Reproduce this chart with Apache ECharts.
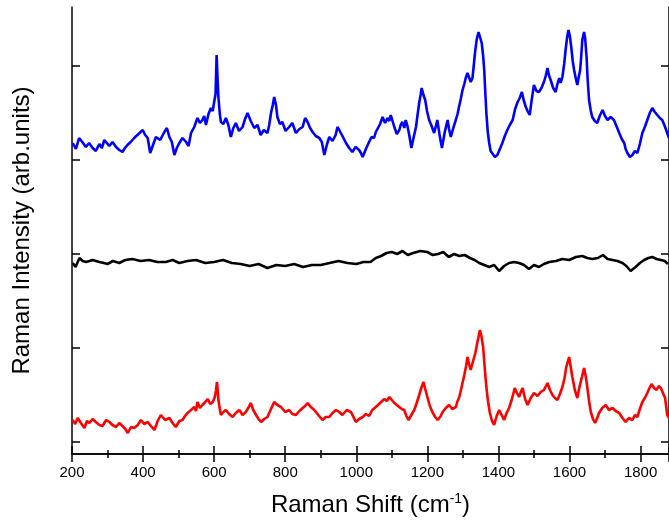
<!DOCTYPE html>
<html>
<head>
<meta charset="utf-8">
<script src="https://cdn.jsdelivr.net/npm/echarts@6/dist/echarts.min.js"></script>
<style>
  html, body { margin: 0; padding: 0; background: #fff; }
  #chart { width: 669px; height: 522px; }
</style>
</head>
<body>
<div id="chart"></div>
<script>
// Raman shift (cm-1) and intensity (arb. units, spectra offset vertically)
const blueShift = [202, 211, 220, 229, 239, 248, 258, 267, 277, 284, 291, 298, 305, 314, 324, 333, 342, 349, 356, 365,
  375, 387, 399, 406, 413, 420, 428, 436, 448, 460, 467, 474, 481, 488, 495, 502, 511, 521, 528, 535,
  544, 553, 560, 567, 572, 577, 584, 591, 596, 600, 604, 607, 610, 612, 616, 619, 626, 633, 640, 647,
  654, 661, 670, 680, 687, 694, 703, 713, 722, 731, 740, 750, 755, 760, 765, 769, 774, 778, 785, 792,
  801, 811, 820, 830, 840, 849, 856, 863, 870, 877, 886, 896, 903, 910, 917, 924, 933, 942, 947, 952,
  961, 971, 980, 989, 998, 1008, 1013, 1018, 1027, 1036, 1043, 1050, 1055, 1060, 1067, 1074, 1081, 1088, 1093, 1097,
  1102, 1107, 1114, 1121, 1125, 1130, 1135, 1139, 1144, 1149, 1155, 1161, 1168, 1172, 1177, 1181, 1184, 1189, 1194, 1199,
  1205, 1212, 1219, 1224, 1228, 1234, 1241, 1249, 1257, 1261, 1266, 1273, 1280, 1285, 1289, 1294, 1299, 1304, 1308, 1313,
  1318, 1322, 1327, 1331, 1334, 1339, 1344, 1348, 1353, 1357, 1360, 1363, 1366, 1370, 1374, 1378, 1383, 1390, 1397, 1404,
  1411, 1418, 1425, 1432, 1440, 1447, 1454, 1460, 1466, 1471, 1477, 1482, 1488, 1494, 1500, 1507, 1514, 1521, 1528, 1533,
  1538, 1542, 1547, 1554, 1561, 1566, 1571, 1575, 1580, 1585, 1589, 1593, 1597, 1601, 1605, 1609, 1613, 1618, 1622, 1626,
  1630, 1633, 1636, 1641, 1644, 1648, 1651, 1655, 1660, 1664, 1671, 1678, 1685, 1693, 1700, 1707, 1716, 1725, 1732, 1740,
  1747, 1754, 1758, 1763, 1770, 1777, 1784, 1791, 1798, 1805, 1812, 1819, 1826, 1833, 1840, 1847, 1854, 1861, 1868, 1875, 1880];
const blue = [311, 305, 316, 312, 307, 311, 306, 303, 310, 306, 314, 311, 308, 312, 307, 304, 302, 306, 309, 312,
  316, 320, 324, 319, 316, 301, 309, 317, 314, 322, 326, 317, 312, 299, 306, 311, 316, 312, 308, 321,
  327, 336, 331, 334, 338, 329, 340, 346, 343, 352, 360, 399, 372, 357, 340, 332, 330, 336, 329, 317,
  326, 331, 323, 327, 335, 341, 333, 326, 329, 319, 324, 321, 329, 341, 349, 357, 349, 337, 330, 332,
  323, 327, 331, 321, 325, 327, 336, 332, 326, 322, 318, 316, 312, 299, 309, 317, 313, 319, 327, 324,
  318, 311, 306, 302, 307, 304, 301, 297, 305, 312, 317, 316, 322, 321, 330, 337, 331, 336, 333, 339,
  333, 327, 320, 324, 329, 332, 326, 334, 328, 319, 306, 316, 327, 338, 351, 359, 366, 359, 354, 343,
  334, 328, 321, 328, 334, 320, 306, 322, 334, 325, 317, 326, 334, 340, 347, 355, 364, 370, 376, 381,
  379, 372, 376, 390, 401, 415, 422, 420, 411, 398, 384, 362, 341, 322, 311, 303, 301, 297, 299, 305,
  311, 318, 324, 329, 334, 345, 352, 356, 362, 354, 347, 343, 339, 355, 369, 363, 362, 366, 372, 378,
  386, 379, 374, 366, 362, 370, 376, 371, 377, 390, 404, 416, 424, 418, 407, 393, 384, 375, 369, 377,
  384, 398, 414, 422, 416, 397, 375, 354, 343, 337, 333, 331, 338, 344, 338, 334, 337, 334, 328, 321,
  315, 311, 305, 301, 297, 299, 303, 301, 310, 321, 327, 334, 341, 346, 342, 339, 336, 334, 328, 321, 316];

const blackShift = [202, 210, 221, 230, 240, 258, 277, 290, 300, 315, 333, 350, 370, 393, 417, 440, 464, 483, 502, 525,
  549, 575, 600, 625, 650, 675, 700, 725, 750, 775, 800, 825, 850, 875, 900, 925, 950, 975, 1000, 1020,
  1040, 1055, 1070, 1085, 1100, 1115, 1130, 1145, 1160, 1180, 1200, 1215, 1230, 1245, 1260, 1275, 1290, 1305, 1320, 1333,
  1346, 1360, 1374, 1388, 1402, 1416, 1430, 1444, 1458, 1472, 1486, 1500, 1514, 1528, 1543, 1562, 1580, 1599, 1618, 1636,
  1650, 1664, 1680, 1694, 1707, 1721, 1735, 1749, 1760, 1772, 1786, 1798, 1810, 1822, 1833, 1845, 1857, 1868, 1877];
const black = [191, 187, 196, 193, 192, 194, 192, 191, 190, 193, 191, 194, 195, 193, 194, 192, 192, 194, 191, 193,
  194, 191, 192, 194, 191, 190, 188, 190, 186, 189, 188, 190, 187, 189, 189, 191, 193, 191, 190, 192,
  192, 196, 198, 201, 202, 200, 203, 199, 201, 203, 202, 199, 200, 202, 197, 200, 198, 199, 196, 194,
  191, 189, 187, 189, 183, 188, 191, 192, 191, 189, 185, 189, 187, 190, 192, 193, 195, 194, 197, 198,
  196, 195, 196, 199, 195, 194, 193, 191, 188, 183, 187, 191, 194, 196, 197, 195, 194, 193, 190];

const redShift = [202, 209, 216, 225, 235, 242, 249, 258, 267, 277, 286, 296, 305, 314, 324, 333, 342, 350, 357, 366,
  375, 385, 394, 403, 413, 422, 432, 441, 450, 462, 474, 483, 492, 502, 511, 518, 525, 535, 544, 549,
  553, 560, 567, 575, 582, 589, 596, 602, 605, 608, 610, 612, 616, 619, 626, 633, 642, 652, 661, 671,
  680, 689, 696, 703, 710, 718, 725, 732, 741, 750, 760, 769, 778, 788, 800, 811, 820, 830, 840, 849,
  856, 863, 872, 882, 893, 905, 914, 924, 933, 943, 952, 961, 973, 985, 992, 999, 1008, 1018, 1027, 1036,
  1045, 1055, 1067, 1079, 1086, 1093, 1100, 1107, 1114, 1121, 1128, 1135, 1141, 1147, 1155, 1163, 1170, 1177, 1183, 1189,
  1194, 1200, 1207, 1214, 1222, 1229, 1236, 1243, 1252, 1261, 1270, 1280, 1285, 1290, 1297, 1304, 1309, 1313, 1318, 1322,
  1328, 1335, 1341, 1348, 1352, 1357, 1361, 1366, 1371, 1376, 1382, 1388, 1395, 1402, 1409, 1416, 1423, 1430, 1438, 1446,
  1452, 1458, 1463, 1468, 1475, 1482, 1491, 1500, 1510, 1519, 1528, 1538, 1545, 1552, 1559, 1566, 1573, 1580, 1586, 1591,
  1595, 1599, 1603, 1608, 1615, 1622, 1628, 1635, 1641, 1646, 1650, 1655, 1660, 1666, 1672, 1678, 1683, 1692, 1702, 1711,
  1721, 1730, 1740, 1749, 1758, 1767, 1777, 1784, 1791, 1798, 1805, 1812, 1819, 1825, 1831, 1838, 1845, 1851, 1857, 1863,
  1869, 1875, 1880];
const red = [34, 30, 36, 31, 26, 33, 31, 35, 32, 29, 28, 34, 32, 29, 27, 31, 28, 25, 21, 27,
  26, 29, 34, 30, 32, 28, 24, 33, 39, 34, 36, 31, 27, 33, 34, 38, 41, 44, 47, 43,
  52, 46, 49, 52, 55, 50, 52, 57, 63, 72, 64, 54, 45, 39, 42, 44, 40, 37, 41, 44,
  39, 42, 46, 51, 44, 39, 35, 32, 35, 37, 45, 52, 49, 47, 42, 44, 40, 39, 43, 46,
  48, 51, 47, 44, 39, 34, 37, 37, 41, 44, 42, 39, 44, 42, 37, 32, 35, 37, 40, 38,
  44, 47, 51, 55, 53, 57, 54, 51, 49, 47, 45, 44, 38, 34, 39, 44, 51, 59, 66, 72,
  65, 57, 48, 42, 37, 34, 37, 42, 46, 49, 45, 47, 53, 57, 68, 79, 88, 97, 89, 84,
  92, 101, 112, 124, 118, 107, 88, 67, 52, 41, 33, 29, 38, 44, 39, 34, 41, 46, 55, 66,
  61, 57, 62, 66, 55, 49, 56, 61, 58, 62, 64, 71, 64, 59, 56, 54, 60, 67, 76, 87,
  92, 97, 88, 77, 64, 56, 67, 77, 86, 77, 67, 53, 42, 35, 31, 36, 41, 46, 49, 44,
  46, 43, 41, 36, 32, 36, 34, 39, 37, 45, 52, 56, 61, 66, 70, 66, 64, 68, 66, 61,
  56, 39, 36];

const yTicks = [12, 106, 200, 294, 388];

const pairs = (xs, ys) => xs.map((x, i) => [x, ys[i]]);

const chart = echarts.init(document.getElementById("chart"));

const font = "Liberation Sans, Arial, sans-serif";
const axisLine = { lineStyle: { color: "#000", width: 1.5 } };
const tickStyle = { color: "#000", width: 1.5 };

const lineSeries = (name, color, data) => ({
  name,
  type: "line",
  data,
  showSymbol: false,
  symbol: "none",
  lineStyle: { color, width: 2.6 },
  silent: true,
});

chart.setOption({
  animation: false,
  grid: { left: 72, top: 7, width: 598, bottom: 68 },
  xAxis: [
    {
      type: "value",
      min: 200,
      max: 1880,
      interval: 200,
      name: "{a|Raman Shift (cm}{b|-1}{a|)}",
      nameLocation: "middle",
      nameGap: 38,
      nameTextStyle: {
        rich: {
          a: { fontFamily: font, fontSize: 24, color: "#000" },
          b: { fontFamily: font, fontSize: 14, color: "#000", verticalAlign: "top", padding: [0, 0, 12, 0] },
        },
      },
      axisLine,
      axisTick: { inside: true, length: 8, lineStyle: tickStyle },
      minorTick: { show: true, splitNumber: 2, length: 4, lineStyle: tickStyle },
      axisLabel: {
        color: "#000",
        fontFamily: font,
        fontSize: 15,
        margin: 11,
        showMaxLabel: false,
        formatter: (v) => String(v),
      },
      splitLine: { show: false },
    },
    {
      type: "value",
      position: "top",
      min: 200,
      max: 1880,
      interval: 200,
      axisLine,
      axisTick: { inside: true, length: 8, lineStyle: tickStyle },
      minorTick: { show: true, splitNumber: 2, length: 4, lineStyle: tickStyle },
      axisLabel: { show: false },
      splitLine: { show: false },
    },
  ],
  yAxis: [
    {
      type: "value",
      min: 0,
      max: 447,
      name: "Raman Intensity (arb.units)",
      nameLocation: "middle",
      nameGap: 38,
      nameTextStyle: { fontFamily: font, fontSize: 24, color: "#000" },
      axisLine,
      axisTick: { inside: true, length: 8, customValues: yTicks, lineStyle: tickStyle },
      axisLabel: { show: false },
      splitLine: { show: false },
    },
    {
      type: "value",
      position: "right",
      min: 0,
      max: 447,
      axisLine,
      axisTick: { inside: true, length: 8, customValues: yTicks, lineStyle: tickStyle },
      axisLabel: { show: false },
      splitLine: { show: false },
    },
  ],
  series: [
    lineSeries("blue", "#0000ff", pairs(blueShift, blue)),
    lineSeries("black", "#000000", pairs(blackShift, black)),
    lineSeries("red", "#ff0000", pairs(redShift, red)),
  ],
});
</script>
</body>
</html>
